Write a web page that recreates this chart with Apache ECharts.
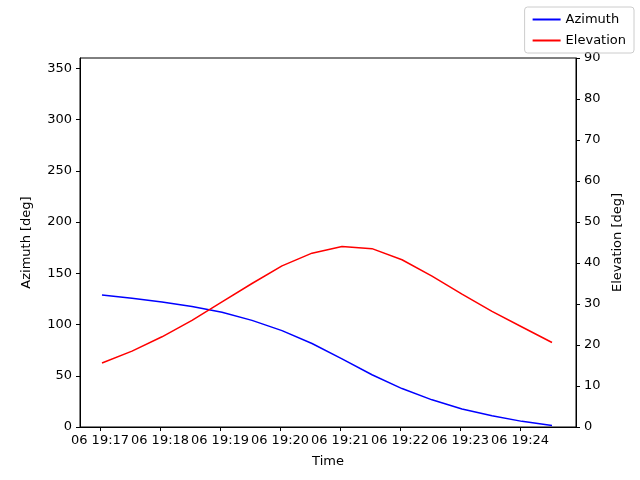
<!DOCTYPE html>
<html><head><meta charset="utf-8">
<script src="https://cdn.jsdelivr.net/npm/echarts@6/dist/echarts.min.js"></script>
<style>body{margin:0}#c{width:640px;height:480px}</style></head>
<body><div id="c"></div>
<script>
// seconds after 19:17:00
const times = [2,32,62,92,122,152,182,212,242,272,302,332,362,392,422,452];
const azimuth = [128.8,125.5,122,117.5,112,104,94,81.5,66.5,51,37.5,26.5,17.5,11,5.5,1.5];
const elevation = [15.6,18.5,22,26,30.5,35,39.3,42.4,44,43.5,40.8,36.8,32.4,28.2,24.4,20.6];
const tickSeconds = [0,60,120,180,240,300,360,420];
const tickLabels = ['06 19:17','06 19:18','06 19:19','06 19:20','06 19:21','06 19:22','06 19:23','06 19:24'];

const font = {fontFamily:'DejaVu Sans', fontSize:13, color:'#000'};
const axisCommon = {
  axisLine:{show:true,onZero:false,lineStyle:{color:'#000'}},
  axisTick:{show:true,length:4,inside:false,lineStyle:{color:'#000'}},
  splitLine:{show:false},
  nameTextStyle:{...font}
};
const chart = echarts.init(document.getElementById('c'));
chart.setOption({
  animation:false,
  grid:{left:80,right:64,top:58,bottom:53,show:true,borderColor:'#000',borderWidth:1},
  legend:{
    orient:'vertical', right:6, top:7, itemWidth:28, itemHeight:2, itemGap:8,
    borderColor:'#ccc', borderWidth:1, borderRadius:3, padding:[6,8,6,8],
    textStyle:{...font},
    data:[{name:'Azimuth',icon:'rect'},{name:'Elevation',icon:'rect'}]
  },
  xAxis:{type:'value', min:-20, max:476, name:'Time', nameLocation:'middle', nameGap:28,
    ...axisCommon,
    axisTick:{show:true,length:4,customValues:tickSeconds,lineStyle:{color:'#000'}},
    axisLabel:{...font, margin:7, customValues:tickSeconds, formatter:v=>tickLabels[tickSeconds.indexOf(v)]}
  },
  yAxis:[
    {type:'value', min:0, max:360, interval:50, name:'Azimuth [deg]', nameLocation:'middle', nameGap:47,
      ...axisCommon, axisLabel:{...font, showMaxLabel:false}},
    {type:'value', min:0, max:90, interval:10, name:'Elevation [deg]', nameLocation:'middle', nameGap:34,
      ...axisCommon, axisLabel:{...font}}
  ],
  series:[
    {name:'Azimuth', type:'line', yAxisIndex:0, showSymbol:false, color:'#0000ff',
      lineStyle:{width:1.5}, data:times.map((t,i)=>[t,azimuth[i]])},
    {name:'Elevation', type:'line', yAxisIndex:1, showSymbol:false, color:'#ff0000',
      lineStyle:{width:1.5}, data:times.map((t,i)=>[t,elevation[i]])}
  ]
});
</script></body></html>
